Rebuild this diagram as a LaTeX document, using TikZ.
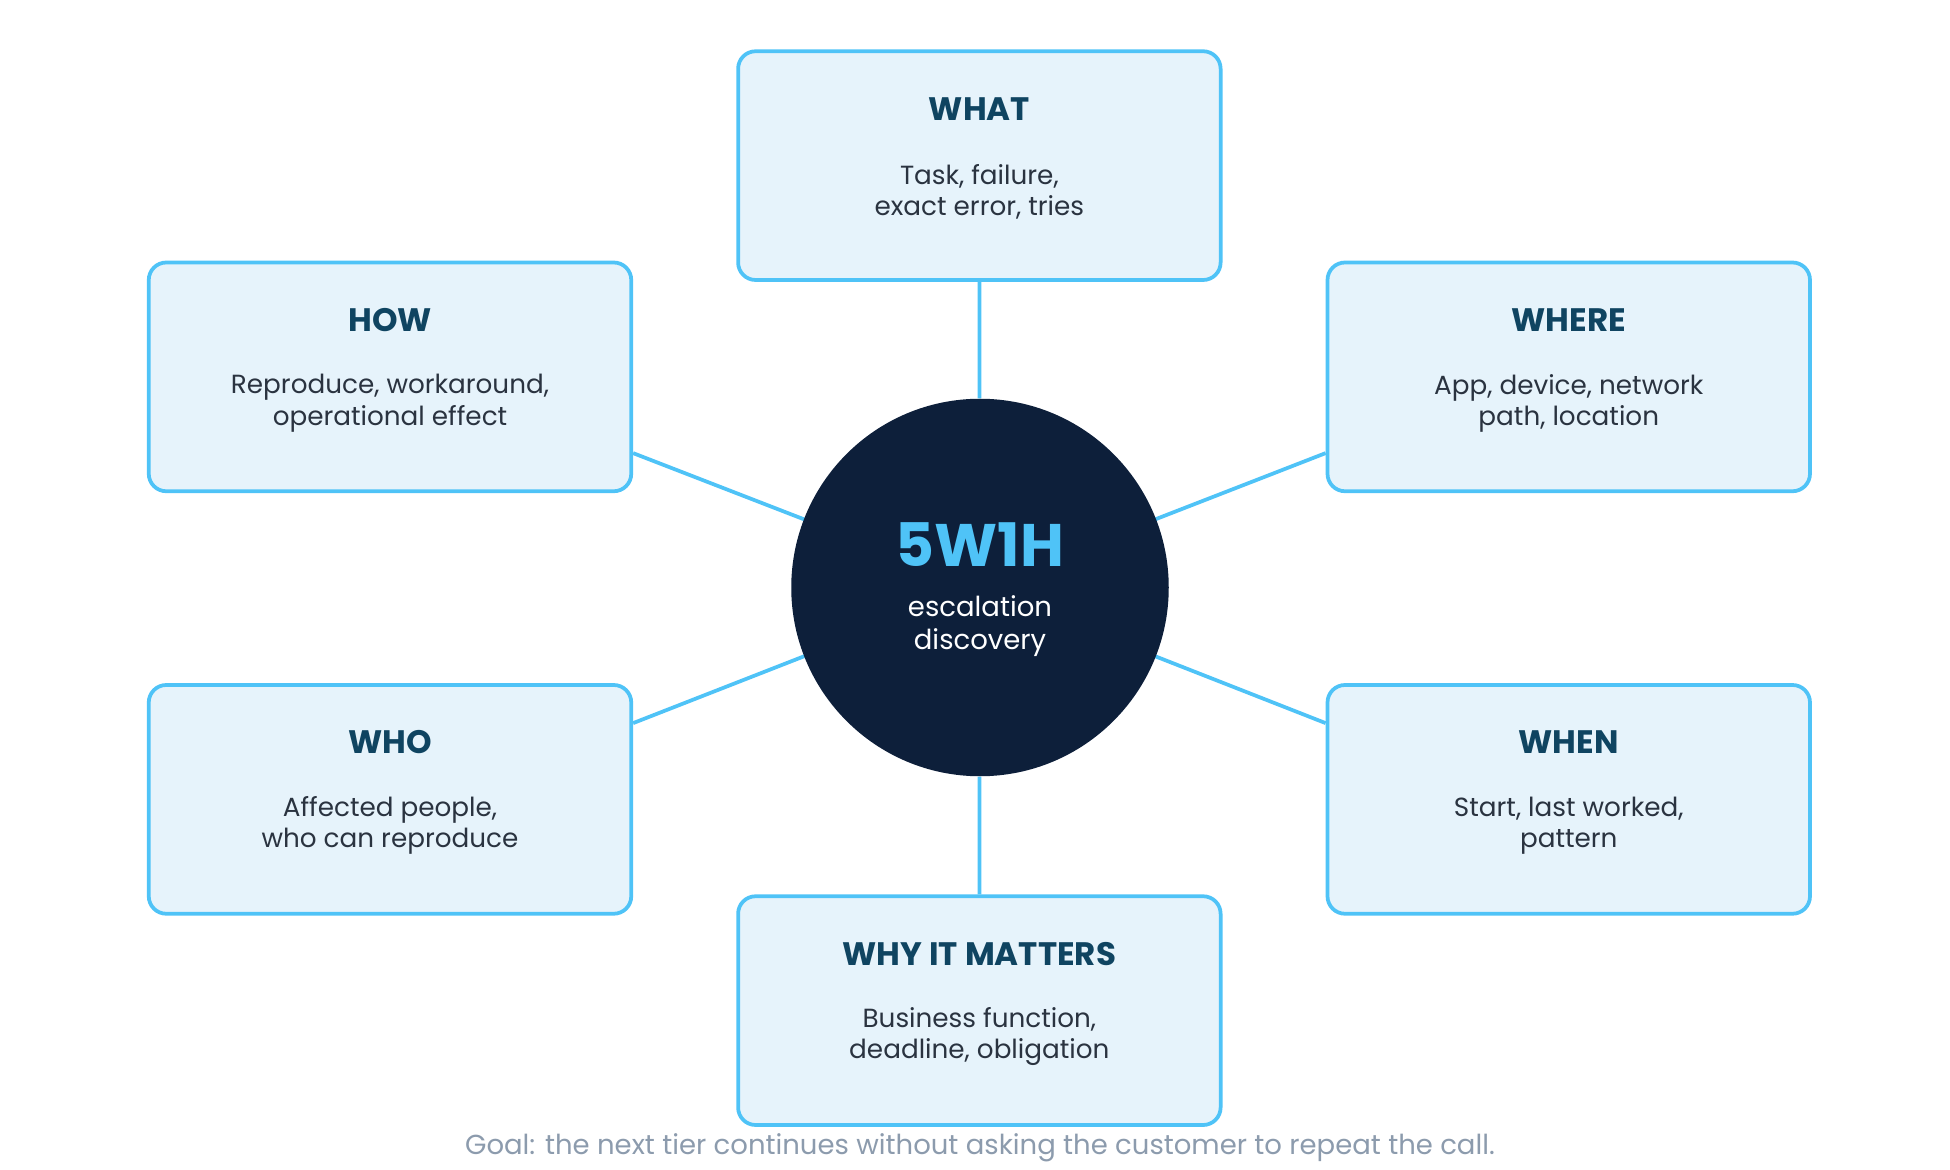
\documentclass[tikz,border=0pt]{standalone}
\usepackage{fontspec}
\setmainfont{Poppins}
\usetikzlibrary{backgrounds,calc}
\definecolor{edge}{HTML}{4FC3F7}
\definecolor{cardfill}{HTML}{E6F3FB}
\definecolor{headcol}{HTML}{0F4461}
\definecolor{bodycol}{HTML}{2A3340}
\definecolor{hubcol}{HTML}{0D1F3A}
\definecolor{goalcol}{HTML}{8C9BAD}

\newcommand{\card}[5]{%
  \node[card] (#1) at (#2,#3) {};
  \node[head] (#1-t) at ($(#1.center)+(0,-45.5)$) {#4};
  \node[body] (#1-b) at ($(#1.center)+(0,21)$) {#5};
}

\begin{document}
\begin{tikzpicture}[x=0.5pt,y=-0.5pt,
    card/.style={draw=edge, fill=cardfill, line width=1.5pt, rounded corners=7pt,
      minimum width=193pt, minimum height=91.5pt, inner sep=0pt},
    head/.style={text=headcol, font=\fontsize{13}{15}\selectfont\bfseries},
    body/.style={text=bodycol, align=center, font=\fontsize{10.5}{12.5}\selectfont},
    link/.style={draw=edge, line width=1.5pt}]
  \useasboundingbox (0,0) rectangle (1560,936);

  \node[circle, fill=hubcol, minimum size=151pt, inner sep=0pt] (hub) at (784,470) {};
  \node[text=edge, font=\fontsize{24}{26}\selectfont\bfseries] (hub-t) at (784,436) {5W1H};
  \node[text=white, align=center, font=\fontsize{11}{13}\selectfont] (hub-b) at (784,501) {escalation\\discovery};

  \card{what}{783.5}{132.5}{WHAT}{Task, failure,\\exact error, tries}
  \card{how}{312}{301.5}{HOW}{Reproduce, workaround,\\operational effect}
  \card{where}{1255}{301.5}{WHERE}{App, device, network\\path, location}
  \card{who}{312}{639.5}{WHO}{Affected people,\\who can reproduce}
  \card{when}{1255}{639.5}{WHEN}{Start, last worked,\\pattern}
  \card{why}{783.5}{808.5}{WHY IT MATTERS}{Business function,\\deadline, obligation}

  \begin{scope}[on background layer]
    \draw[link] (hub) -- (what.south);
    \draw[link] (hub) -- (why.north);
    \draw[link] (hub.center) -- ($(how.east)+(0,61)$);
    \draw[link] (hub.center) -- ($(where.west)+(0,61)$);
    \draw[link] (hub.center) -- ($(who.east)+(0,-61)$);
    \draw[link] (hub.center) -- ($(when.west)+(0,-61)$);
  \end{scope}

  \node[text=goalcol, font=\fontsize{11}{13}\selectfont] (goal) at (784,918)
    {Goal: the next tier continues without asking the customer to repeat the call.};
\end{tikzpicture}
\end{document}
